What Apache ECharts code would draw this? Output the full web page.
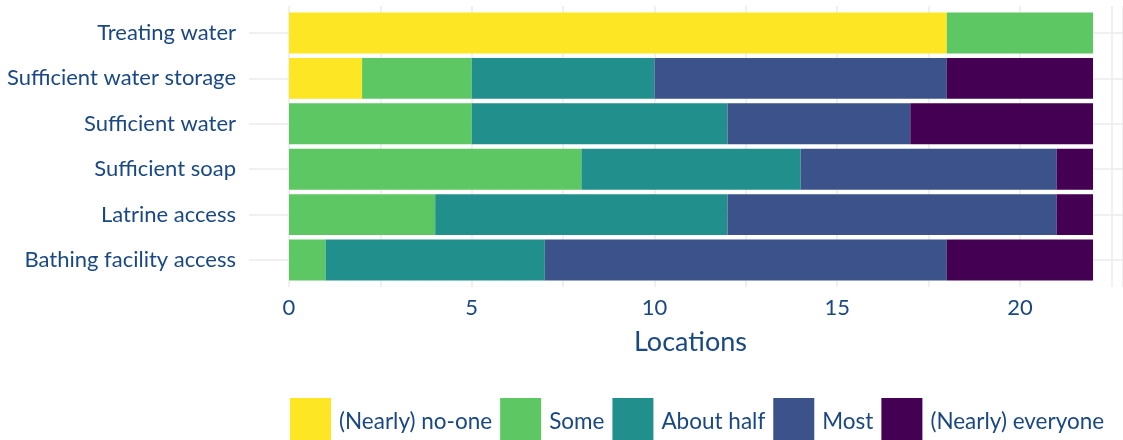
<!DOCTYPE html>
<html><head><meta charset="utf-8">
<script src="https://cdn.jsdelivr.net/npm/echarts@6/dist/echarts.min.js"></script>
<style>html,body{margin:0;padding:0;background:#fff}#c{width:1123px;height:440px}</style>
</head><body><div id="c"></div>
<script>
const categories = ['Treating water','Sufficient water storage','Sufficient water','Sufficient soap','Latrine access','Bathing facility access'];
const seriesNames = ['(Nearly) no-one','Some','About half','Most','(Nearly) everyone'];
const nearlyNoOne = [18, 2, 0, 0, 0, 0];
const some = [4, 3, 5, 8, 4, 1];
const aboutHalf = [0, 5, 7, 6, 8, 6];
const most = [0, 8, 5, 7, 9, 11];
const nearlyEveryone = [0, 4, 5, 1, 1, 4];
const xTickLabels = [0, 5, 10, 15, 20];
const colors = ['#FDE725','#5DC863','#21908C','#3B528B','#440154'];
const values = [nearlyNoOne, some, aboutHalf, most, nearlyEveryone];

const FONT = 'Lato';
const TXT = '#1a4884';
const GRID = '#ebebeb';
const XMAX = 22.82;

const chart = echarts.init(document.getElementById('c'), null, {renderer:'canvas'});
chart.setOption({
  animation: false,
  color: colors,
  textStyle: {fontFamily: FONT},
  grid: [
    {left: 289, right: 0, top: 10.3, height: 272.4},
    {left: 289, right: 0, top: 6, height: 281},
    {left: 249, right: 0, top: 33, height: 227}
  ],
  xAxis: [
    {gridIndex: 0, type: 'value', min: 0, max: XMAX, show: false},
    {gridIndex: 1, type: 'value', min: 0, max: XMAX, interval: 2.5,
     axisLine: {show: false}, axisTick: {show: false},
     splitLine: {show: true, lineStyle: {color: GRID, width: 1.5}},
     axisLabel: {show: true, margin: 10, fontSize: 22, color: TXT, fontFamily: FONT,
       showMaxLabel: false,
       formatter: v => xTickLabels.includes(v) ? String(v) : ''},
     name: 'Locations', nameLocation: 'middle', nameGap: 42,
     nameTextStyle: {fontSize: 27, color: TXT, fontFamily: FONT, padding: [0, 31, 0, 0]}},
    {gridIndex: 2, type: 'value', min: 0, max: 1, show: false}
  ],
  yAxis: [
    {gridIndex: 0, type: 'category', data: categories, inverse: true,
     axisLine: {show: false}, axisTick: {show: false}, splitLine: {show: false},
     axisLabel: {margin: 53, fontSize: 22, color: TXT, fontFamily: FONT}},
    {gridIndex: 1, type: 'value', show: false},
    {gridIndex: 2, type: 'category', data: categories, inverse: true, boundaryGap: false,
     axisLine: {show: false}, axisTick: {show: false}, axisLabel: {show: false},
     splitLine: {show: true, lineStyle: {color: GRID, width: 1.5}}}
  ],
  legend: {
    left: 285, top: 393, orient: 'horizontal',
    itemWidth: 41, itemHeight: 48, itemGap: 8, icon: 'rect',
    textStyle: {fontSize: 22.5, color: TXT, fontFamily: FONT, padding: [0,0,0,3]},
    data: seriesNames
  },
  series: seriesNames.map((n, i) => ({
    name: n, type: 'bar', stack: 'total', xAxisIndex: 0, yAxisIndex: 0,
    barCategoryGap: '10%', data: values[i],
    itemStyle: {color: colors[i]}
  }))
});
</script></body></html>
